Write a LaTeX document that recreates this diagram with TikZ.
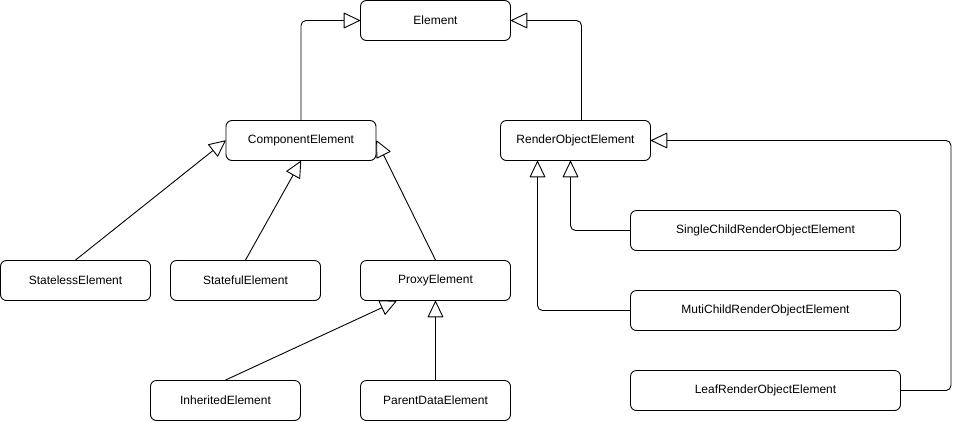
\documentclass[tikz,border=0pt]{standalone}
\usepackage{fontspec}
\setmainfont{Liberation Sans}
\usetikzlibrary{arrows.meta}
\tikzstyle{Box}=[draw,rounded corners=6pt,minimum width=150pt,
minimum height=40pt,inner sep=0pt,line width=0.9pt,
font=\fontsize{12}{14}\selectfont]
\tikzstyle{WideBox}=[Box,minimum width=270pt]
\tikzstyle{Edge}=[draw,line width=0.9pt,rounded corners=5pt,
-{Triangle[open,length=17pt,width=16pt,round=false]}]
\begin{document}
\begin{tikzpicture}[x=1pt,y=-1pt]
            \useasboundingbox(0,0)rectangle(969,421);
            \node[Box](El)at(435.5,20.5){Element};
            \node[Box](CE)at(301,140.5){ComponentElement};
            \node[Box](RO)at(575.5,140.5){RenderObjectElement};
            \node[Box](SL)at(75.5,280.5){StatelessElement};
            \node[Box](SF)at(245.5,280.5){StatefulElement};
            \node[Box](PX)at(435.5,280.5){ProxyElement};
            \node[Box](IH)at(225.5,400.5){InheritedElement};
            \node[Box](PD)at(435.5,400.5){ParentDataElement};
            \node[WideBox](SC)at(765.5,230.5){SingleChildRenderObjectElement};
            \node[WideBox](MC)at(765.5,310.5){MutiChildRenderObjectElement};
            \node[WideBox](LF)at(765.5,390.5){LeafRenderObjectElement};
            \draw[Edge](CE.north)|-(El.west);
            \draw[Edge]([xshift=6pt]RO.north)|-(El.east);
            \draw[Edge](SL.north)--(CE.west);
            \draw[Edge](SF.north)--(CE.south);
            \draw[Edge](PX.north)--(CE.east);
            \draw[Edge](IH.north)--([xshift=-39pt]PX.south);
            \draw[Edge](PD.north)--(PX.south);
            \draw[Edge](SC.west)-|([xshift=-5pt]RO.south);
            \draw[Edge](MC.west)-|([xshift=-38pt]RO.south);
            \draw[Edge](LF.east)--++(50,0)|-(RO.east);
        \end{tikzpicture}
\end{document}
